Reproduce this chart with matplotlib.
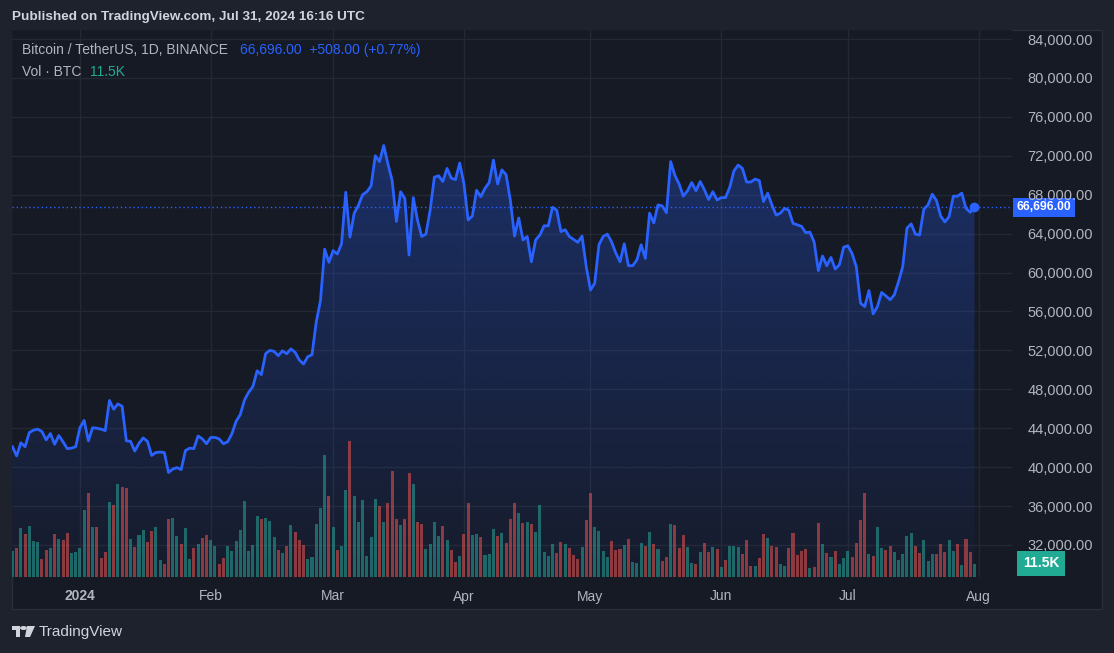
import numpy as np
import pandas as pd
import matplotlib
matplotlib.use('Agg')
import matplotlib.pyplot as plt
import matplotlib.dates as mdates
import matplotlib.transforms as mtransforms
from matplotlib.patches import Polygon, Rectangle, Circle
from matplotlib.colors import to_rgb

plt.rcParams['font.family'] = ['Liberation Sans', 'DejaVu Sans']

# BTC/USDT daily close, 16 Dec 2023 -> 31 Jul 2024
close_dec = [42100, 41150, 42500, 42100, 43550, 43800, 43900, 43650, 42800, 43450,
             42350, 43250, 42600, 41900, 41950, 42100]
close_jan = [44050, 44800, 42700, 44050, 44000, 43900, 43750, 46850, 45950, 46500,
             46250, 42700, 42650, 41650, 42450, 43000, 42650, 41200, 41500, 41550,
             41500, 39450, 39800, 39950, 39750, 41700, 41950, 41900, 43200, 42900,
             42400]
close_feb = [43050, 43050, 42900, 42400, 42600, 43400, 44700, 45400, 46900, 47700,
             48300, 49900, 49500, 51650, 52000, 51900, 51450, 51950, 51650, 52150,
             51800, 51000, 50600, 51350, 51550, 54900, 57100, 62400, 61050]
close_mar = [62250, 61900, 62950, 68250, 63650, 66100, 66900, 68000, 68300, 68900,
             72000, 71400, 73050, 71150, 69450, 65250, 68300, 67600, 61800, 67700,
             65400, 63700, 63950, 66400, 69800, 69950, 69350, 70700, 69700, 69550,
             71250]
close_apr = [69150, 65400, 65800, 68450, 67800, 68650, 69250, 71550, 69100, 70550,
             70050, 67450, 63750, 65600, 63350, 63700, 61100, 63350, 63850, 64800,
             64800, 66700, 66400, 64200, 64400, 63700, 63400, 63100, 63750, 60600]
close_may = [58200, 58900, 62850, 63700, 63950, 63150, 62000, 61100, 62950, 60700,
             60700, 61300, 62850, 61450, 66100, 65100, 66950, 66850, 66150, 71400,
             70000, 69100, 67850, 68400, 69250, 68400, 69350, 68500, 67500, 68300,
             67450]
close_jun = [67700, 67700, 68750, 70450, 71050, 70700, 69300, 69300, 69600, 69450,
             67300, 68150, 66950, 65900, 66100, 66600, 66400, 65050, 64900, 64750,
             64100, 64150, 63150, 60200, 61700, 60700, 61550, 60350, 60800, 62600]
close_jul = [62750, 61950, 60600, 56850, 56500, 58150, 55750, 56500, 57950, 57600,
             57200, 57700, 59050, 60600, 64550, 65000, 63950, 63850, 66500, 66950,
             68050, 67400, 65800, 65200, 65750, 67850, 67850, 68150, 66600, 66188,
             66696]

# volume in thousands of BTC, same days
volume_k = [23.3, 26.3, 44.1, 38.7, 45.9, 32.3, 31.4, 16.3, 24.2, 26.3,
            38.7, 34.1, 33.2, 39.6, 21.4, 22.3, 26.3, 60.4, 75.8, 45.0,
            45.0, 16.9, 22.3, 67.6, 64.9, 84.0, 81.2, 80.3, 34.1, 26.9,
            37.8, 42.3, 31.4, 41.4, 45.0, 15.1, 11.5, 52.2, 53.8, 36.8,
            29.6, 44.1, 16.0, 26.0, 29.6, 35.0, 37.8, 33.2, 27.8, 11.5,
            16.9, 27.8, 23.3, 32.3, 42.3, 68.6, 23.3, 28.7, 55.0, 52.2,
            53.2, 50.4, 35.9, 24.2, 21.4, 27.8, 46.8, 40.5, 33.2, 28.7,
            16.0, 17.8, 47.7, 62.2, 110.2, 73.1, 45.0, 24.2,
            27.8, 78.5, 122.9, 73.1, 49.5, 69.5, 18.7, 35.9, 70.4, 64.0,
            49.5, 66.7, 95.7, 52.2, 46.8, 52.2, 93.9, 84.0, 49.5, 47.7,
            25.1, 29.6, 49.5, 36.8, 45.9, 33.2, 24.2, 13.3, 18.7, 38.7,
            66.7, 37.8, 38.7, 35.9, 19.6, 20.5, 43.2, 36.8, 39.6, 30.5,
            52.2, 66.7, 57.7, 48.6, 49.5, 47.7, 40.5, 64.9, 22.3, 18.7,
            29.6, 21.4, 31.4, 29.6, 26.0, 19.6, 16.0, 26.9, 51.3, 75.8,
            45.0, 41.4, 23.3, 17.8, 32.3, 24.2, 25.1, 28.7, 34.1, 13.3,
            12.4, 30.5, 27.8,
            40.5, 29.6, 25.1, 14.2, 17.8, 47.7, 46.8, 26.0, 37.8, 26.9,
            12.4, 11.5, 22.3, 30.5, 22.3, 26.9, 25.1, 8.8, 15.1, 27.8,
            27.8, 26.9, 20.5, 33.2, 9.7, 9.7, 16.9, 38.7, 35.0, 27.8,
            26.9, 11.5, 9.7, 26.0, 39.6, 19.6, 23.3, 25.1, 7.9, 8.8,
            48.6, 29.6, 21.4, 17.8, 23.3, 11.5, 16.9, 23.3, 17.8, 30.5,
            51.3, 75.8, 20.5, 18.7, 45.0, 26.0, 24.2, 27.8, 22.3, 15.1,
            20.5, 36.8, 39.6, 27.8, 21.4, 33.2, 14.2, 20.5, 20.5, 29.6,
            22.3, 33.2, 23.3, 29.6, 10.6, 34.1, 22.3, 11.5]

# 1 = green (up) candle, 0 = red (down) candle
vol_up = [1, 0, 1, 0, 1, 1, 1, 0, 0, 1,
          0, 1, 0, 0, 1, 1, 1, 1, 0, 1,
          0, 0, 0, 1, 0, 1, 0, 0, 1, 0,
          1, 1, 0, 0, 1, 1, 0, 0, 1, 1,
          0, 1, 1, 0, 1, 0, 0, 1, 1, 0,
          0, 1, 1, 1, 1, 1, 1, 1, 1, 0,
          1, 1, 1, 0, 1, 0, 1, 0, 0, 0,
          1, 1, 1, 1, 1, 0, 1, 0,
          1, 1, 0, 1, 1, 1, 1, 1, 1, 0,
          1, 0, 0, 0, 1, 0, 0, 1, 0, 0,
          1, 1, 1, 1, 0, 1, 0, 0, 1, 0,
          0, 1, 1, 0, 1, 1, 1, 0, 1, 0,
          0, 0, 1, 0, 1, 0, 1, 1, 1, 1,
          1, 0, 0, 1, 0, 0, 0, 1, 0, 0,
          1, 1, 1, 1, 0, 0, 0, 1, 0, 1,
          1, 1, 0,
          1, 0, 1, 0, 0, 1, 0, 0, 0, 1,
          1, 0, 1, 0, 0, 1, 0, 1, 0, 1,
          1, 1, 0, 0, 0, 1, 0, 0, 1, 0,
          0, 1, 1, 0, 0, 0, 0, 0, 1, 0,
          0, 1, 0, 1, 0, 1, 1, 1, 0, 0,
          0, 0, 1, 0, 1, 1, 0, 0, 1, 1,
          1, 1, 1, 0, 0, 1, 1, 1, 0, 0,
          0, 1, 1, 0, 1, 0, 0, 1]

month_ticks = ['2024-01-01', '2024-02-01', '2024-03-01', '2024-04-01',
               '2024-05-01', '2024-06-01', '2024-07-01', '2024-08-01']
month_labels = ['2024', 'Feb', 'Mar', 'Apr', 'May', 'Jun', 'Jul', 'Aug']
price_ticks = list(range(32000, 84001, 4000))

close = np.array(close_dec + close_jan + close_feb + close_mar + close_apr
                 + close_may + close_jun + close_jul, dtype=float)
dates = pd.date_range('2023-12-16', periods=len(close), freq='D')
x = mdates.date2num(dates)
vol = np.array(volume_k)
last_price = close[-1]

W, H = 1114, 653
BG = '#1e222d'
PANE = '#161a25'
GRID = '#242833'
TXT = '#b2b5be'
BLUE = '#2962ff'
GREEN = '#26a69a'
RED = '#ef5350'

fig = plt.figure(figsize=(W / 100, H / 100), dpi=100, facecolor=BG)

def fx(px):
    return px / W

def fy(py):
    return 1 - py / H

# chart pane background (incl. price scale and time axis)
fig.patches.append(Rectangle((fx(12), fy(609)), fx(1090), (609 - 30) / H,
                             transform=fig.transFigure, facecolor=PANE,
                             edgecolor='#2a2e39', lw=1, zorder=-10))

# price axes below, volume axes on top (transparent)
ax = fig.add_axes([fx(12), fy(577), fx(1000), 547 / H])
ax.set_facecolor(PANE)
ax_vol = ax.twinx()
ax_vol.patch.set_visible(False)

xl = (x[0] - 0.1, x[0] + 236.9)

# grid
ybot, ytop = 28707, 84925
for p in price_ticks:
    ax.axhline(p, color=GRID, lw=1, zorder=0)
for m in month_ticks:
    ax.axvline(mdates.date2num(pd.Timestamp(m)), color=GRID, lw=1, zorder=0)

# gradient area under the line
rgba = np.zeros((256, 1, 4))
rgba[..., :3] = to_rgb(BLUE)
rgba[..., 3] = np.linspace(0.03, 0.30, 256).reshape(-1, 1)
im = ax.imshow(rgba, aspect='auto', origin='lower',
               extent=[x[0], x[-1], ybot, close.max()], zorder=1)
poly = Polygon(np.column_stack([np.r_[x[0], x, x[-1]], np.r_[ybot, close, ybot]]),
               closed=True, facecolor='none', edgecolor='none', transform=ax.transData)
ax.add_patch(poly)
im.set_clip_path(poly)

ax.plot(x, close, color=BLUE, lw=2, solid_joinstyle='round', zorder=3)
ax.plot(x[-1], last_price, 'o', color=BLUE, ms=6, zorder=4)
ax.axhline(last_price, color=BLUE, lw=1, ls=(0, (1, 2)), zorder=2)

ax.set_xlim(*xl)
ax.set_ylim(ybot, ytop)
ax.set_xticks([mdates.date2num(pd.Timestamp(m)) for m in month_ticks])
ax.set_xticklabels(month_labels)
ax.tick_params(axis='x', length=0, pad=9, labelsize=10, labelcolor=TXT)
ax.get_xticklabels()[0].set_fontweight('bold')
for s in ax.spines.values():
    s.set_visible(False)

# volume bars
colors = [GREEN if u else RED for u in vol_up]
ax_vol.bar(x, vol, width=0.72, color=colors, alpha=0.55, linewidth=0, zorder=2)
ax_vol.set_ylim(0, 496)
ax_vol.set_xlim(*xl)
for s in ax_vol.spines.values():
    s.set_visible(False)

# price scale on the right
ax.set_yticks([])
ax_vol.set_yticks([])
ax_price = ax_vol.secondary_yaxis('right', functions=(
    lambda v: ybot + v * (ytop - ybot) / 496, lambda p: (p - ybot) * 496 / (ytop - ybot)))
ax_price.set_yticks(price_ticks)
ax_price.set_yticklabels([f'{p:,.2f}' for p in price_ticks])
ax_price.tick_params(axis='y', length=0, pad=11, labelsize=10.5, labelcolor=TXT)
for s in ax_price.spines.values():
    s.set_visible(False)

# last price tag and volume tag on the price scale
trans = mtransforms.blended_transform_factory(ax.transAxes, ax.transData)
ax.text(1.005, last_price, f'{last_price:,.2f}', transform=trans, ha='left', va='center',
        color='white', fontsize=8.7, fontweight='bold', clip_on=False, zorder=10,
        bbox=dict(boxstyle='square,pad=0.3', fc=BLUE, ec='none'))
vtrans = mtransforms.blended_transform_factory(ax_vol.transAxes, ax_vol.transData)
ax_vol.text(1.011, vol[-1] + 1, f'{vol[-1]:.1f}K', transform=vtrans, ha='left',
            va='center', color='white', fontsize=10, fontweight='bold', clip_on=False,
            bbox=dict(boxstyle='square,pad=0.4', fc='#22ab94', ec='none'))

# header and legend
fig.text(fx(12), fy(17), 'Published on TradingView.com, Jul 31, 2024 16:16 UTC',
         color='#d1d4dc', fontsize=9.7, fontweight='bold', va='center')
fig.text(fx(22), fy(50), 'Bitcoin / TetherUS, 1D, BINANCE', color=TXT, fontsize=10, va='center')
fig.text(fx(240), fy(50), '66,696.00  +508.00 (+0.77%)', color=BLUE, fontsize=10, va='center')
fig.text(fx(22), fy(72), 'Vol · BTC', color=TXT, fontsize=10, va='center')
fig.text(fx(90), fy(72), '11.5K', color='#22ab94', fontsize=10, va='center')

# TradingView logo
fig.patches.append(Rectangle((fx(12), fy(630)), fx(8), 4 / H, transform=fig.transFigure,
                             facecolor='#d1d4dc', ec='none'))
fig.patches.append(Rectangle((fx(16), fy(637)), fx(4), 11 / H, transform=fig.transFigure,
                             facecolor='#d1d4dc', ec='none'))
fig.patches.append(Circle((fx(23.5), fy(628)), 2 / H, transform=fig.transFigure,
                          facecolor='#d1d4dc', ec='none'))
fig.patches.append(Polygon([(fx(27), fy(626)), (fx(35), fy(626)), (fx(30), fy(637)),
                            (fx(25), fy(637))], closed=True, transform=fig.transFigure,
                           facecolor='#d1d4dc', ec='none'))
fig.text(fx(39), fy(632), 'TradingView', color='#d1d4dc', fontsize=11, va='center')

fig.savefig('out.png', dpi=100, facecolor=BG)
